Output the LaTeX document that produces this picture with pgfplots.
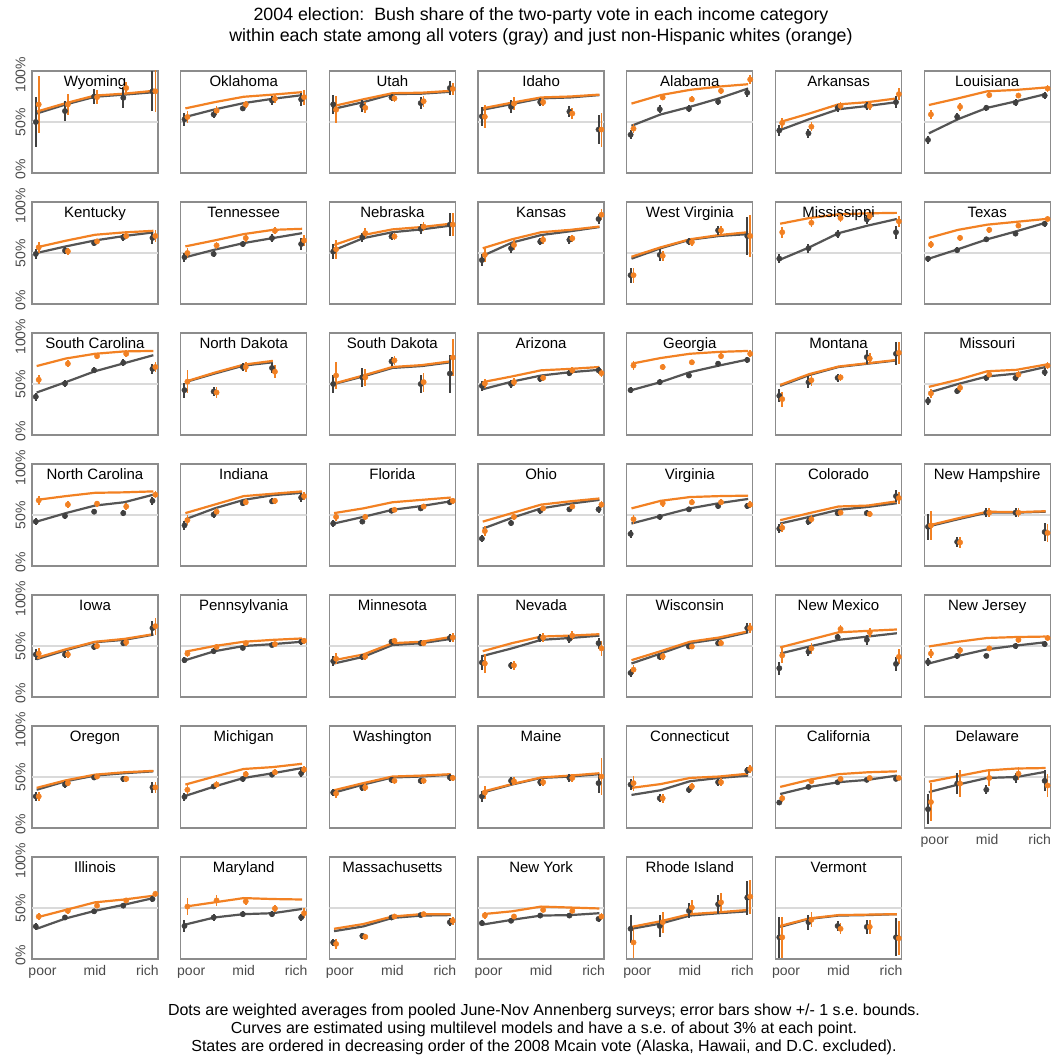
\documentclass[border=0pt]{standalone}
\usepackage{fontspec}
\setmainfont{Liberation Sans}
\usepackage{pgfplots}
\usepackage{pgfplotstable}
\pgfplotsset{compat=1.18}
\frenchspacing

\definecolor{myorange}{HTML}{F28123}
\definecolor{linegray}{HTML}{555555}
\definecolor{dotgray}{HTML}{404040}
\definecolor{bordergray}{HTML}{8C8C8C}
\definecolor{refgray}{HTML}{DADADA}
\definecolor{labgray}{HTML}{4A4A4A}

\newcommand\ticklabfont{\fontsize{14}{15}\selectfont}

\pgfplotsset{
 panel/.style={scale only axis, width=126pt, height=102pt, anchor=north west,
  xmin=0.84, xmax=5.16, ymin=-0.04, ymax=1.04,
  axis line style={draw=bordergray, line width=1.3pt},
  xtick=\empty, ytick=\empty,
  tick align=outside, major tick length=6.5pt, tick style={draw=none},
  xticklabel style={font=\ticklabfont, text=labgray, inner sep=0pt, text height=10pt, text depth=3pt, anchor=north},
  yticklabel style={font=\ticklabfont, text=labgray, inner sep=0pt, rotate=90, anchor=south, text depth=0pt},
 },
 ylab/.style={ytick={0,0.5,1}, yticklabels={0\%,50\%,100\%}},
 xlab/.style={xtick={1.2,3,4.8}, xticklabels={poor,mid,rich}},
 refline/.style={color=refgray, line width=1.2pt, mark=none},
 grayline/.style={color=linegray, line width=2.2pt, mark=none},
 orangeline/.style={color=myorange, line width=2.2pt, mark=none},
 graydot/.style={only marks, mark=*, mark size=2.7pt, color=dotgray,
  error bars/y dir=both, error bars/y explicit, error bars/error mark=none,
  error bars/error bar style={line width=2pt, color=dotgray}},
 orangedot/.style={only marks, mark=*, mark size=2.7pt, color=myorange,
  error bars/y dir=both, error bars/y explicit, error bars/error mark=none,
  error bars/error bar style={line width=1.7pt, color=myorange}},
}
\tikzset{ptitle/.style={anchor=north, inner sep=0pt, text height=11pt, yshift=-4.5pt, font=\fontsize{15}{16}\selectfont, text=black}}

% columns: gl = gray curve, ol = orange curve, gd/ge = gray dot and s.e., od/oe = orange dot and s.e.
\pgfplotstableread{
gl ol gd ge od oe
0.59 0.61 0.50 0.26 0.686 0.30
0.686 0.70 0.616 0.105 0.686 0.11
0.767 0.78 0.77 0.08 0.763 0.075
0.79 0.80 0.756 0.11 0.86 0.06
0.815 0.83 0.826 0.21 0.826 0.22
}\tWY
\pgfplotstableread{
gl ol gd ge od oe
0.553 0.644 0.528 0.07 0.553 0.06
0.633 0.71 0.58 0.04 0.62 0.05
0.70 0.767 0.644 0.03 0.686 0.04
0.746 0.79 0.728 0.05 0.746 0.05
0.784 0.816 0.74 0.07 0.763 0.08
}\tOK
\pgfplotstableread{
gl ol gd ge od oe
0.64 0.67 0.687 0.10 0.63 0.14
0.71 0.74 0.67 0.06 0.65 0.06
0.795 0.805 0.76 0.04 0.75 0.04
0.80 0.81 0.70 0.06 0.72 0.06
0.82 0.83 0.86 0.07 0.85 0.06
}\tUT
\pgfplotstableread{
gl ol gd ge od oe
0.63 0.645 0.56 0.10 0.555 0.12
0.69 0.705 0.66 0.07 0.695 0.07
0.75 0.76 0.71 0.04 0.71 0.04
0.76 0.77 0.61 0.06 0.59 0.06
0.785 0.79 0.42 0.15 0.42 0.18
}\tID
\pgfplotstableread{
gl ol gd ge od oe
0.46 0.695 0.365 0.05 0.43 0.05
0.58 0.785 0.635 0.04 0.76 0.03
0.66 0.84 0.64 0.035 0.74 0.03
0.75 0.875 0.715 0.04 0.83 0.03
0.855 0.90 0.81 0.05 0.95 0.05
}\tAL
\pgfplotstableread{
gl ol gd ge od oe
0.415 0.50 0.41 0.06 0.49 0.05
0.53 0.59 0.38 0.05 0.45 0.05
0.635 0.687 0.65 0.04 0.67 0.04
0.67 0.71 0.67 0.04 0.67 0.04
0.71 0.75 0.71 0.06 0.795 0.06
}\tAR
\pgfplotstableread{
gl ol gd ge od oe
0.38 0.68 0.31 0.04 0.58 0.05
0.53 0.75 0.555 0.035 0.66 0.04
0.65 0.825 0.65 0.03 0.785 0.03
0.72 0.84 0.705 0.035 0.78 0.03
0.795 0.865 0.78 0.04 0.855 0.04
}\tLA
\pgfplotstableread{
gl ol gd ge od oe
0.50 0.56 0.49 0.05 0.56 0.06
0.57 0.63 0.525 0.04 0.518 0.035
0.633 0.693 0.605 0.03 0.623 0.03
0.68 0.718 0.665 0.04 0.68 0.035
0.718 0.735 0.66 0.06 0.68 0.06
}\tKY
\pgfplotstableread{
gl ol gd ge od oe
0.455 0.57 0.455 0.05 0.50 0.05
0.535 0.633 0.49 0.03 0.58 0.04
0.605 0.70 0.595 0.035 0.658 0.04
0.658 0.745 0.658 0.04 0.735 0.035
0.71 0.756 0.595 0.06 0.633 0.06
}\tTN
\pgfplotstableread{
gl ol gd ge od oe
0.53 0.585 0.515 0.08 0.54 0.10
0.657 0.69 0.665 0.05 0.71 0.05
0.72 0.75 0.675 0.04 0.675 0.04
0.75 0.775 0.755 0.05 0.78 0.05
0.79 0.81 0.80 0.12 0.80 0.12
}\tNE
\pgfplotstableread{
gl ol gd ge od oe
0.47 0.55 0.425 0.06 0.48 0.07
0.61 0.645 0.55 0.05 0.585 0.05
0.69 0.72 0.62 0.04 0.64 0.04
0.73 0.745 0.64 0.04 0.655 0.04
0.775 0.78 0.86 0.05 0.905 0.06
}\tKS
\pgfplotstableread{
gl ol gd ge od oe
0.44 0.46 0.265 0.08 0.265 0.08
0.55 0.56 0.48 0.06 0.47 0.05
0.64 0.645 0.62 0.04 0.615 0.04
0.68 0.69 0.74 0.05 0.74 0.05
0.70 0.72 0.68 0.20 0.68 0.22
}\tWV
\pgfplotstableread{
gl ol gd ge od oe
0.43 0.81 0.44 0.05 0.72 0.06
0.56 0.87 0.55 0.05 0.82 0.05
0.71 0.91 0.70 0.04 0.87 0.04
0.79 0.92 0.855 0.05 0.89 0.04
0.86 0.925 0.72 0.07 0.835 0.06
}\tMS
\pgfplotstableread{
gl ol gd ge od oe
0.44 0.66 0.44 0.03 0.59 0.04
0.54 0.745 0.53 0.03 0.66 0.03
0.645 0.80 0.645 0.025 0.745 0.03
0.73 0.83 0.705 0.03 0.79 0.03
0.82 0.86 0.81 0.03 0.86 0.03
}\tTX
\pgfplotstableread{
gl ol gd ge od oe
0.41 0.69 0.365 0.04 0.545 0.05
0.52 0.77 0.505 0.035 0.715 0.04
0.635 0.82 0.645 0.03 0.795 0.03
0.72 0.845 0.725 0.035 0.82 0.035
0.805 0.85 0.66 0.05 0.68 0.05
}\tSC
\pgfplotstableread{
gl ol gd ge od oe
0.52 0.525 0.435 0.08 0.525 0.12
0.61 0.62 0.42 0.05 0.41 0.06
0.695 0.705 0.68 0.04 0.68 0.05
0.73 0.745 0.67 0.05 0.63 0.07
}\tND
\pgfplotstableread{
gl ol gd ge od oe
0.50 0.505 0.50 0.10 0.59 0.14
0.58 0.59 0.57 0.10 0.57 0.09
0.67 0.68 0.74 0.05 0.75 0.05
0.69 0.70 0.50 0.10 0.52 0.10
0.73 0.74 0.61 0.20 0.78 0.20
}\tSD
\pgfplotstableread{
gl ol gd ge od oe
0.445 0.52 0.48 0.05 0.505 0.05
0.525 0.58 0.50 0.04 0.52 0.04
0.59 0.645 0.555 0.03 0.565 0.03
0.625 0.66 0.615 0.035 0.645 0.035
0.65 0.68 0.645 0.04 0.615 0.04
}\tAZ
\pgfplotstableread{
gl ol gd ge od oe
0.435 0.715 0.435 0.035 0.695 0.05
0.52 0.775 0.52 0.03 0.68 0.03
0.625 0.82 0.59 0.025 0.73 0.025
0.695 0.84 0.715 0.03 0.795 0.03
0.76 0.85 0.755 0.035 0.82 0.035
}\tGA
\pgfplotstableread{
gl ol gd ge od oe
0.48 0.49 0.375 0.07 0.34 0.08
0.595 0.605 0.52 0.06 0.54 0.06
0.68 0.685 0.565 0.04 0.57 0.04
0.715 0.72 0.785 0.07 0.77 0.06
0.75 0.755 0.82 0.12 0.83 0.12
}\tMT
\pgfplotstableread{
gl ol gd ge od oe
0.41 0.47 0.32 0.04 0.40 0.05
0.50 0.545 0.425 0.035 0.46 0.04
0.58 0.635 0.565 0.03 0.60 0.03
0.61 0.65 0.565 0.035 0.60 0.035
0.68 0.705 0.625 0.04 0.695 0.04
}\tMO
\pgfplotstableread{
gl ol gd ge od oe
0.43 0.66 0.43 0.04 0.655 0.05
0.52 0.70 0.49 0.03 0.61 0.035
0.60 0.735 0.535 0.025 0.62 0.03
0.635 0.74 0.52 0.03 0.59 0.035
0.715 0.75 0.65 0.04 0.715 0.04
}\tNC
\pgfplotstableread{
gl ol gd ge od oe
0.455 0.52 0.39 0.05 0.445 0.05
0.57 0.61 0.505 0.035 0.535 0.035
0.66 0.70 0.625 0.03 0.635 0.03
0.71 0.725 0.645 0.03 0.65 0.03
0.735 0.75 0.685 0.045 0.70 0.045
}\tIN
\pgfplotstableread{
gl ol gd ge od oe
0.41 0.52 0.41 0.04 0.48 0.04
0.48 0.57 0.43 0.03 0.48 0.03
0.555 0.635 0.545 0.025 0.555 0.025
0.595 0.66 0.57 0.025 0.59 0.025
0.645 0.685 0.635 0.03 0.65 0.03
}\tFL
\pgfplotstableread{
gl ol gd ge od oe
0.355 0.43 0.25 0.04 0.33 0.05
0.47 0.52 0.415 0.035 0.48 0.035
0.57 0.61 0.545 0.03 0.57 0.03
0.62 0.645 0.56 0.03 0.59 0.03
0.66 0.675 0.56 0.04 0.61 0.04
}\tOH
\pgfplotstableread{
gl ol gd ge od oe
0.41 0.57 0.30 0.04 0.455 0.05
0.49 0.65 0.48 0.03 0.625 0.035
0.57 0.69 0.56 0.025 0.635 0.03
0.625 0.70 0.595 0.03 0.635 0.03
0.67 0.705 0.595 0.035 0.61 0.035
}\tVA
\pgfplotstableread{
gl ol gd ge od oe
0.41 0.445 0.355 0.05 0.365 0.05
0.48 0.52 0.43 0.04 0.455 0.04
0.555 0.59 0.52 0.03 0.525 0.03
0.585 0.60 0.52 0.03 0.51 0.03
0.625 0.645 0.70 0.06 0.68 0.06
}\tCO
\pgfplotstableread{
gl ol gd ge od oe
0.38 0.39 0.375 0.14 0.39 0.15
0.455 0.465 0.215 0.05 0.21 0.06
0.525 0.535 0.525 0.05 0.525 0.05
0.525 0.53 0.525 0.05 0.525 0.05
0.535 0.54 0.32 0.10 0.31 0.10
}\tNH
\pgfplotstableread{
gl ol gd ge od oe
0.36 0.375 0.41 0.06 0.42 0.06
0.455 0.465 0.41 0.04 0.41 0.04
0.54 0.545 0.49 0.035 0.50 0.035
0.565 0.575 0.53 0.035 0.54 0.035
0.62 0.625 0.69 0.08 0.71 0.09
}\tIA
\pgfplotstableread{
gl ol gd ge od oe
0.35 0.44 0.35 0.035 0.42 0.035
0.445 0.50 0.445 0.03 0.49 0.03
0.50 0.545 0.48 0.025 0.53 0.025
0.52 0.565 0.51 0.025 0.52 0.025
0.545 0.58 0.545 0.03 0.555 0.03
}\tPA
\pgfplotstableread{
gl ol gd ge od oe
0.315 0.35 0.34 0.05 0.365 0.06
0.385 0.41 0.385 0.035 0.39 0.04
0.51 0.53 0.545 0.03 0.555 0.03
0.53 0.545 0.53 0.03 0.53 0.03
0.575 0.595 0.585 0.045 0.59 0.045
}\tMN
\pgfplotstableread{
gl ol gd ge od oe
0.395 0.445 0.325 0.08 0.315 0.10
0.475 0.53 0.295 0.04 0.295 0.05
0.565 0.60 0.585 0.04 0.59 0.05
0.585 0.61 0.575 0.045 0.61 0.05
0.61 0.625 0.53 0.06 0.475 0.08
}\tNV
\pgfplotstableread{
gl ol gd ge od oe
0.315 0.35 0.215 0.04 0.25 0.05
0.42 0.445 0.385 0.03 0.39 0.035
0.53 0.545 0.495 0.03 0.495 0.03
0.575 0.59 0.53 0.03 0.53 0.03
0.645 0.655 0.69 0.05 0.69 0.05
}\tWI
\pgfplotstableread{
gl ol gd ge od oe
0.42 0.485 0.265 0.07 0.40 0.08
0.495 0.565 0.44 0.05 0.475 0.06
0.565 0.645 0.595 0.035 0.68 0.04
0.60 0.66 0.565 0.05 0.645 0.05
0.635 0.675 0.31 0.07 0.385 0.08
}\tNM
\pgfplotstableread{
gl ol gd ge od oe
0.315 0.495 0.33 0.04 0.42 0.05
0.395 0.545 0.395 0.03 0.455 0.035
0.465 0.585 0.395 0.025 0.475 0.025
0.505 0.595 0.50 0.03 0.565 0.03
0.54 0.60 0.52 0.03 0.585 0.03
}\tNJ
\pgfplotstableread{
gl ol gd ge od oe
0.365 0.385 0.295 0.05 0.295 0.05
0.455 0.465 0.42 0.035 0.435 0.035
0.515 0.525 0.495 0.03 0.505 0.03
0.54 0.55 0.48 0.035 0.48 0.035
0.56 0.565 0.39 0.06 0.39 0.06
}\tOR
\pgfplotstableread{
gl ol gd ge od oe
0.30 0.42 0.29 0.04 0.365 0.05
0.40 0.505 0.40 0.03 0.42 0.035
0.49 0.585 0.48 0.03 0.53 0.03
0.54 0.605 0.525 0.03 0.55 0.03
0.595 0.64 0.54 0.04 0.58 0.04
}\tMI
\pgfplotstableread{
gl ol gd ge od oe
0.335 0.36 0.335 0.04 0.325 0.045
0.42 0.435 0.385 0.03 0.39 0.035
0.495 0.505 0.47 0.03 0.46 0.03
0.505 0.515 0.46 0.03 0.46 0.03
0.525 0.53 0.495 0.035 0.49 0.035
}\tWA
\pgfplotstableread{
gl ol gd ge od oe
0.335 0.345 0.295 0.06 0.335 0.07
0.42 0.425 0.46 0.04 0.455 0.04
0.49 0.495 0.445 0.035 0.445 0.035
0.505 0.515 0.49 0.04 0.49 0.04
0.53 0.54 0.435 0.10 0.505 0.20
}\tME
\pgfplotstableread{
gl ol gd ge od oe
0.31 0.385 0.42 0.06 0.435 0.08
0.36 0.425 0.275 0.04 0.275 0.05
0.455 0.49 0.365 0.035 0.40 0.04
0.49 0.505 0.445 0.035 0.445 0.04
0.515 0.535 0.57 0.04 0.585 0.045
}\tCT
\pgfplotstableread{
gl ol gd ge od oe
0.32 0.395 0.23 0.03 0.275 0.035
0.395 0.47 0.395 0.025 0.455 0.025
0.445 0.53 0.445 0.02 0.48 0.02
0.47 0.55 0.47 0.02 0.49 0.02
0.515 0.56 0.48 0.025 0.49 0.025
}\tCA
\pgfplotstableread{
gl ol gd ge od oe
0.34 0.45 0.16 0.16 0.235 0.20
0.42 0.51 0.43 0.11 0.43 0.14
0.49 0.57 0.365 0.05 0.49 0.08
0.50 0.59 0.49 0.05 0.535 0.07
0.555 0.595 0.46 0.11 0.41 0.12
}\tDE
\pgfplotstableread{
gl ol gd ge od oe
0.28 0.40 0.305 0.035 0.41 0.04
0.39 0.48 0.40 0.03 0.47 0.03
0.47 0.56 0.465 0.025 0.525 0.025
0.535 0.59 0.525 0.025 0.58 0.025
0.605 0.63 0.595 0.03 0.65 0.035
}\tIL
\pgfplotstableread{
gl ol gd ge od oe
0.325 0.515 0.31 0.06 0.515 0.09
0.40 0.56 0.40 0.04 0.58 0.06
0.435 0.605 0.435 0.035 0.57 0.04
0.445 0.595 0.435 0.035 0.495 0.04
0.49 0.59 0.40 0.04 0.445 0.05
}\tMD
\pgfplotstableread{
gl ol gd ge od oe
0.255 0.28 0.135 0.04 0.12 0.05
0.305 0.33 0.205 0.03 0.195 0.03
0.395 0.41 0.40 0.025 0.41 0.025
0.42 0.435 0.425 0.025 0.435 0.025
0.425 0.435 0.35 0.04 0.365 0.04
}\tMA
\pgfplotstableread{
gl ol gd ge od oe
0.325 0.435 0.34 0.035 0.42 0.04
0.375 0.465 0.365 0.025 0.41 0.03
0.42 0.515 0.42 0.025 0.48 0.025
0.425 0.505 0.42 0.025 0.47 0.025
0.445 0.495 0.385 0.03 0.41 0.035
}\tNY
\pgfplotstableread{
gl ol gd ge od oe
0.28 0.30 0.28 0.15 0.135 0.16
0.335 0.36 0.31 0.12 0.35 0.11
0.42 0.435 0.47 0.08 0.505 0.08
0.445 0.455 0.54 0.10 0.56 0.10
0.465 0.48 0.61 0.18 0.62 0.18
}\tRI
\pgfplotstableread{
gl ol gd ge od oe
0.30 0.31 0.19 0.22 0.19 0.22
0.385 0.39 0.35 0.08 0.375 0.08
0.42 0.425 0.31 0.05 0.28 0.06
0.425 0.43 0.30 0.07 0.30 0.07
0.435 0.435 0.19 0.20 0.18 0.18
}\tVT

% #1 column, #2 row, #3 state, #4 table, #5 extra axis options
\newcommand{\panel}[5]{%
\begin{axis}[panel, at={({32pt+148.7pt*#1},{-71pt-131pt*#2})}, #5]
 \addplot[refline] coordinates {(0.84,0.5) (5.16,0.5)};
 \addplot[grayline] table[x expr=\coordindex+1, y=gl] {#4};
 \addplot[orangeline] table[x expr=\coordindex+1, y=ol] {#4};
 \addplot[graydot] table[x expr=\coordindex+0.97, y=gd, y error=ge] {#4};
 \addplot[orangedot] table[x expr=\coordindex+1.07, y=od, y error=oe] {#4};
 \node[ptitle] at (rel axis cs:0.5,1) {#3};
\end{axis}}

\begin{document}
\begin{tikzpicture}
\useasboundingbox (0pt,0pt) rectangle (1052pt,-1059pt);
\node[anchor=base, font=\fontsize{17.8}{21}\selectfont, inner sep=0pt] at (541pt,-21pt) {2004 election:\ \ Bush share of the two-party vote in each income category};
\node[anchor=base, font=\fontsize{17.8}{21}\selectfont, inner sep=0pt] at (541pt,-42pt) {within each state among all voters (gray) and just non-Hispanic whites (orange)};

\panel{0}{0}{Wyoming}{\tWY}{ylab}
\panel{1}{0}{Oklahoma}{\tOK}{}
\panel{2}{0}{Utah}{\tUT}{}
\panel{3}{0}{Idaho}{\tID}{}
\panel{4}{0}{Alabama}{\tAL}{}
\panel{5}{0}{Arkansas}{\tAR}{}
\panel{6}{0}{Louisiana}{\tLA}{}

\panel{0}{1}{Kentucky}{\tKY}{ylab}
\panel{1}{1}{Tennessee}{\tTN}{}
\panel{2}{1}{Nebraska}{\tNE}{}
\panel{3}{1}{Kansas}{\tKS}{}
\panel{4}{1}{West Virginia}{\tWV}{}
\panel{5}{1}{Mississippi}{\tMS}{}
\panel{6}{1}{Texas}{\tTX}{}

\panel{0}{2}{South Carolina}{\tSC}{ylab}
\panel{1}{2}{North Dakota}{\tND}{}
\panel{2}{2}{South Dakota}{\tSD}{}
\panel{3}{2}{Arizona}{\tAZ}{}
\panel{4}{2}{Georgia}{\tGA}{}
\panel{5}{2}{Montana}{\tMT}{}
\panel{6}{2}{Missouri}{\tMO}{}

\panel{0}{3}{North Carolina}{\tNC}{ylab}
\panel{1}{3}{Indiana}{\tIN}{}
\panel{2}{3}{Florida}{\tFL}{}
\panel{3}{3}{Ohio}{\tOH}{}
\panel{4}{3}{Virginia}{\tVA}{}
\panel{5}{3}{Colorado}{\tCO}{}
\panel{6}{3}{New Hampshire}{\tNH}{}

\panel{0}{4}{Iowa}{\tIA}{ylab}
\panel{1}{4}{Pennsylvania}{\tPA}{}
\panel{2}{4}{Minnesota}{\tMN}{}
\panel{3}{4}{Nevada}{\tNV}{}
\panel{4}{4}{Wisconsin}{\tWI}{}
\panel{5}{4}{New Mexico}{\tNM}{}
\panel{6}{4}{New Jersey}{\tNJ}{}

\panel{0}{5}{Oregon}{\tOR}{ylab}
\panel{1}{5}{Michigan}{\tMI}{}
\panel{2}{5}{Washington}{\tWA}{}
\panel{3}{5}{Maine}{\tME}{}
\panel{4}{5}{Connecticut}{\tCT}{}
\panel{5}{5}{California}{\tCA}{}
\panel{6}{5}{Delaware}{\tDE}{xlab}

\panel{0}{6}{Illinois}{\tIL}{ylab,xlab}
\panel{1}{6}{Maryland}{\tMD}{xlab}
\panel{2}{6}{Massachusetts}{\tMA}{xlab}
\panel{3}{6}{New York}{\tNY}{xlab}
\panel{4}{6}{Rhode Island}{\tRI}{xlab}
\panel{5}{6}{Vermont}{\tVT}{xlab}

\node[anchor=base, font=\fontsize{16}{18}\selectfont, inner sep=0pt] at (544pt,-1015pt) {Dots are weighted averages from pooled June-Nov Annenberg surveys; error bars show +/- 1 s.e. bounds.};
\node[anchor=base, font=\fontsize{16}{18}\selectfont, inner sep=0pt] at (544pt,-1033.3pt) {Curves are estimated using multilevel models and have a s.e. of about 3\% at each point.};
\node[anchor=base, font=\fontsize{16}{18}\selectfont, inner sep=0pt] at (544pt,-1051.7pt) {States are ordered in decreasing order of the 2008 Mcain vote (Alaska, Hawaii, and D.C. excluded).};
\end{tikzpicture}
\end{document}
